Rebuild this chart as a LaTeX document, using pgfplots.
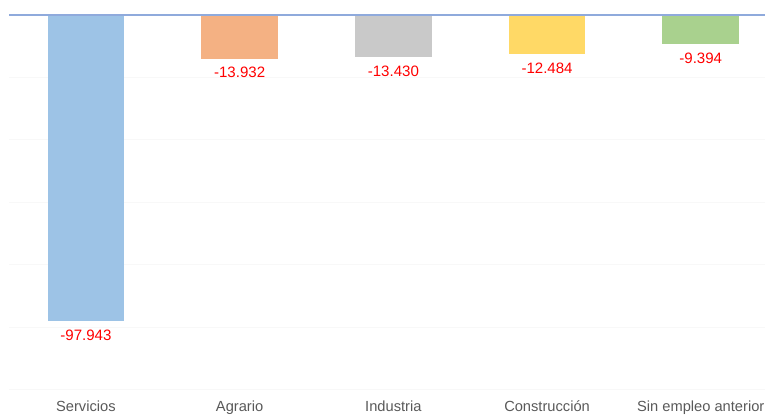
\documentclass[border=0pt]{standalone}
\usepackage{pgfplots}
\pgfplotsset{compat=1.18}
\usepackage{fontspec}
\setmainfont{Liberation Sans}
\definecolor{cServ}{HTML}{9DC3E6}
\definecolor{cAgr}{HTML}{F4B183}
\definecolor{cInd}{HTML}{C9C9C9}
\definecolor{cCon}{HTML}{FFD966}
\definecolor{cSin}{HTML}{A9D18E}
\definecolor{zeroline}{HTML}{8FAADC}
\definecolor{gridc}{HTML}{F8F8F8}
\definecolor{labgray}{HTML}{595959}
\definecolor{valred}{HTML}{FF0000}
\begin{document}
\begin{tikzpicture}
\begin{axis}[
  scale only axis, width=567pt, height=281.25pt,
  xmin=-0.5, xmax=4.418, ymin=-120000, ymax=0,
  axis line style={draw=none},
  major tick length=0pt,
  scaled y ticks=false,
  xtick={0,1,2,3,4},
  xticklabels={Servicios,Agrario,Industria,Construcción,Sin empleo anterior},
  xticklabel style={font=\fontsize{11}{13}\selectfont, text=labgray, anchor=base, yshift=-15.8pt},
  ytick={-120000,-100000,-80000,-60000,-40000,-20000},
  yticklabels={},
  ymajorgrids, grid style={color=gridc, line width=0.75pt},
  ybar, bar width=57.5pt, bar shift=0pt,
  point meta=explicit symbolic,
  nodes near coords={\pgfplotspointmeta},
  nodes near coords style={font=\fontsize{11.3}{13}\selectfont, text=valred, anchor=base, yshift=-14.4pt},
  clip=false,
]
\addplot[fill=cServ, draw=none] table[meta=lab, row sep=\\] {x y lab\\ 0 -97943 -97.943\\};
\addplot[fill=cAgr, draw=none] table[meta=lab, row sep=\\] {x y lab\\ 1 -13932 -13.932\\};
\addplot[fill=cInd, draw=none] table[meta=lab, row sep=\\] {x y lab\\ 2 -13430 -13.430\\};
\addplot[fill=cCon, draw=none] table[meta=lab, row sep=\\] {x y lab\\ 3 -12484 -12.484\\};
\addplot[fill=cSin, draw=none] table[meta=lab, row sep=\\] {x y lab\\ 4 -9394 -9.394\\};
\draw[draw=zeroline, line width=1pt] (axis cs:-0.5,0) -- (axis cs:4.418,0);
\coordinate (bl) at (axis cs:-0.559,-127720);
\coordinate (tr) at (axis cs:4.418,4801);
\end{axis}
\pgfresetboundingbox
\path[use as bounding box] (bl) rectangle (tr);
\end{tikzpicture}
\end{document}
